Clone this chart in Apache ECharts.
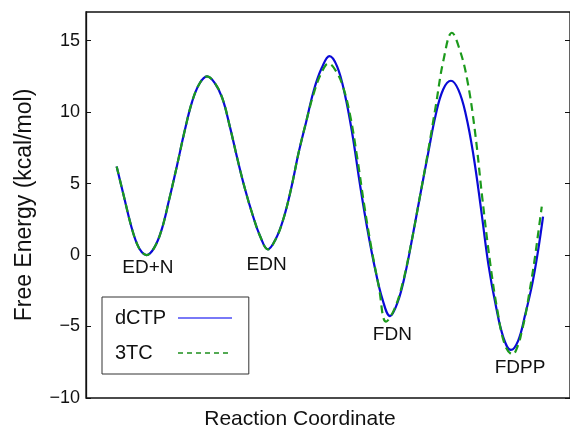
<!DOCTYPE html>
<html><head><meta charset="utf-8">
<script src="https://cdn.jsdelivr.net/npm/echarts@6/dist/echarts.min.js"></script>
<style>html,body{margin:0;padding:0;background:#fff}#c{width:570px;height:429px}</style>
</head><body><div id="c"></div>
<script>
// Reaction coordinate (arbitrary units) and free energy (kcal/mol)
const dctpX = [30.7, 38, 45, 51, 56, 60.7, 68.3, 75.9, 83.4, 91, 98.6, 106.2, 113.8, 121.3, 128.9, 136.5, 144.1, 151.8, 159.4, 167, 174.6, 182.3, 190, 197.7, 205.4, 213.2, 220.9, 228.6, 236.3, 244, 251.6, 259.2, 266.8, 274.4, 282, 289.5, 297.1, 304.7, 312.3, 319.9, 327.5, 335.2, 342.8, 350.4, 358, 365.7, 373.2, 380.7, 388.2, 395.7, 403.2, 410.7, 418.2, 425.7, 433, 440, 447.3, 453, 458];
const dctpY = [6.2, 4.1, 2.1, 0.8, 0.2, 0, 0.5, 1.8, 3.9, 6.2, 8.6, 10.7, 12.0, 12.5, 12.05, 11.0, 9.0, 6.7, 4.6, 2.8, 1.3, 0.4, 1.1, 2.5, 4.6, 7.2, 9.4, 11.6, 13.1, 13.92, 13.2, 11.3, 8.5, 5.0, 1.8, -0.9, -3.1, -4.27, -3.3, -1.3, 1.4, 4.3, 7.1, 9.8, 11.6, 12.19, 11.55, 9.8, 7.0, 3.3, -0.65, -3.55, -5.75, -6.64, -6.0, -4.2, -1.98, 0.3, 2.68];
const tcX = [30.7, 38, 45, 51, 56, 60.7, 68.3, 75.9, 83.4, 91, 98.6, 106.2, 113.8, 121.3, 128.9, 136.5, 144.1, 151.8, 159.4, 167, 174.6, 182.3, 190, 197.7, 205.4, 213.2, 220.9, 228.6, 236.3, 243, 250.2, 257.4, 264.6, 271.8, 279, 286.2, 293.4, 300.7, 308.9, 317.2, 325.4, 333.7, 341.9, 350.2, 358.4, 366.7, 374.3, 381.9, 389.5, 397.1, 404.7, 412.3, 419.9, 427.5, 433, 436.8, 440.7, 444.8, 449, 452.8, 456.7];
const tcY = [6.2, 4.1, 2.1, 0.8, 0.2, 0, 0.5, 1.8, 3.9, 6.2, 8.6, 10.7, 12.0, 12.5, 12.05, 11.0, 9.0, 6.7, 4.6, 2.8, 1.3, 0.4, 1.1, 2.5, 4.6, 7.2, 9.4, 11.4, 12.8, 13.4, 12.9, 11.8, 9.8, 6.8, 3.4, 0.4, -2.2, -4.66, -3.8, -2.0, 0.65, 3.75, 6.9, 10.3, 13.7, 15.55, 14.4, 12.3, 8.8, 4.0, -0.4, -3.9, -6.3, -6.95, -6.3, -5.3, -4.08, -2.4, -0.58, 1.35, 3.38];
const seriesNames = ['dCTP', '3TC'];
const yTicks = [-10, -5, 0, 5, 10, 15];
const stateNames = ['ED+N', 'EDN', 'FDN', 'FDPP'];
const stateX = [62, 181, 307, 435];
const stateY = [-0.91, -0.66, -5.59, -7.87];

const zip = (xs, ys) => xs.map((x, i) => [x, ys[i]]);
const fmt = v => (v < 0 ? '\u2212' + (-v) : String(v));
const FONT = 'Liberation Sans, Arial, Helvetica, sans-serif';
const noSym = {color: 'transparent', borderColor: 'transparent', borderWidth: 0, opacity: 0};

const chart = echarts.init(document.getElementById('c'), null, {renderer: 'canvas'});
chart.setOption({
  animation: false,
  backgroundColor: '#fff',
  grid: {left: 86, top: 12, right: -1, bottom: 31, show: true, borderColor: '#111', borderWidth: 1.3, backgroundColor: 'transparent'},
  xAxis: {type: 'value', min: 0, max: 485, axisLine: {show: false}, axisTick: {show: false}, axisLabel: {show: false}, splitLine: {show: false}},
  yAxis: [
    {type: 'value', min: -10, max: 17, interval: 5, position: 'left',
     axisLine: {show: true, lineStyle: {color: '#111', width: 1.3}},
     axisTick: {show: true, inside: true, length: 5, lineStyle: {color: '#111', width: 1}, customValues: yTicks},
     axisLabel: {margin: 6, fontSize: 18, color: '#111', fontFamily: FONT, formatter: fmt, customValues: yTicks},
     splitLine: {show: false},
     name: 'Free Energy (kcal/mol)', nameLocation: 'middle', nameGap: 50,
     nameTextStyle: {fontSize: 23, color: '#111', fontFamily: FONT}},
    {type: 'value', min: -10, max: 17, interval: 5, position: 'right',
     axisLine: {show: false},
     axisTick: {show: true, inside: true, length: 5, lineStyle: {color: '#111', width: 1}, customValues: yTicks},
     axisLabel: {show: false}, splitLine: {show: false}}
  ],
  legend: {
    orient: 'vertical', left: 102, top: 297, align: 'right',
    padding: [11, 16, 11, 13], itemGap: 15, itemWidth: 54, itemHeight: 14,
    borderColor: '#333', borderWidth: 1, backgroundColor: '#fff',
    itemStyle: noSym,
    data: [
      {name: seriesNames[0], itemStyle: noSym, lineStyle: {color: '#4d4df5', width: 1.3}},
      {name: seriesNames[1], itemStyle: noSym, lineStyle: {color: '#1c8f1c', width: 1.6, type: [5, 4]}}
    ],
    formatter: n => '{t|' + n + '}',
    textStyle: {fontSize: 20, color: '#111', fontFamily: FONT, lineHeight: 20,
      rich: {t: {width: 58, align: 'left', fontSize: 20, fontFamily: FONT, color: '#111'}}}
  },
  graphic: [
    {type: 'text', x: 300, y: 419, style: {text: 'Reaction Coordinate', fontSize: 21, fontFamily: FONT, fill: '#111', align: 'center', verticalAlign: 'middle'}}
  ],
  series: [
    {name: seriesNames[0], type: 'line', data: zip(dctpX, dctpY), smooth: 0.4, showSymbol: false, symbol: 'none',
     itemStyle: {color: '#0a0ad6'}, lineStyle: {color: '#0a0ad6', width: 2.2}, z: 3},
    {name: seriesNames[1], type: 'line', data: zip(tcX, tcY), smooth: 0.4, showSymbol: false, symbol: 'none',
     itemStyle: {color: '#1c9a1c'}, lineStyle: {color: '#1c9a1c', width: 2.2, type: [8, 5]}, z: 4},
    {type: 'scatter', data: zip(stateX, stateY), symbolSize: 0, itemStyle: {color: '#000'}, silent: true, z: 5,
     label: {show: true, position: [0, 0], align: 'center', verticalAlign: 'middle', formatter: p => stateNames[p.dataIndex], fontSize: 19, color: '#111', opacity: 1, fontFamily: FONT}}
  ]
});
</script></body></html>
